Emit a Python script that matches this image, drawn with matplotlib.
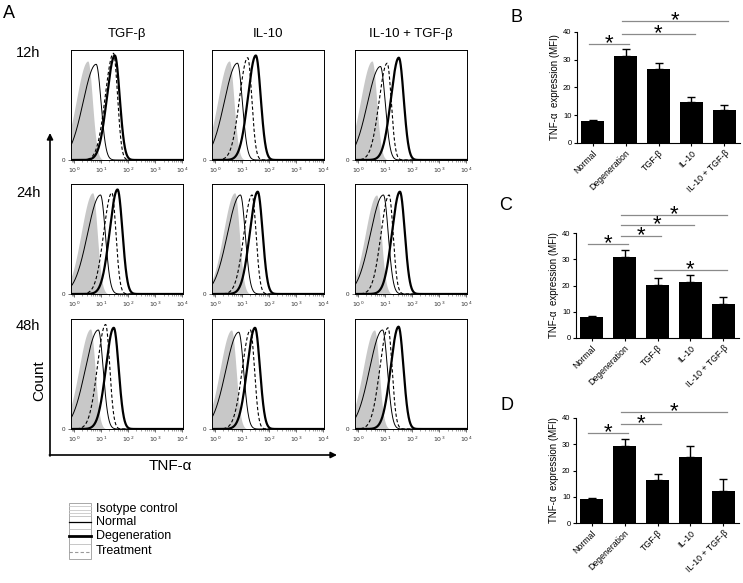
import numpy as np
import matplotlib.pyplot as plt
from matplotlib.patches import Rectangle

plt.rcParams['font.family'] = ['Liberation Sans', 'DejaVu Sans']

W, H = 743, 583

# ---- panel A: flow histograms (peak position as log10 fluorescence, peak height as fraction of max count)
treatments = ['TGF-β', 'IL-10', 'IL-10 + TGF-β']
timepoints = ['12h', '24h', '48h']

iso_peak = [[0.50, 0.52, 0.51], [0.68, 0.72, 0.68], [0.60, 0.60, 0.60]]
normal_peak = [[0.81, 0.82, 0.82], [0.97, 0.93, 0.93], [0.89, 0.87, 0.90]]
degen_peak = [[1.50, 1.50, 1.50], [1.60, 1.57, 1.54], [1.46, 1.47, 1.49]]
treat_peak = [[1.45, 1.20, 1.07], [1.39, 1.36, 1.14], [1.16, 1.30, 1.10]]

iso_height = [[0.90, 0.90, 0.90], [0.92, 0.92, 0.90], [0.91, 0.90, 0.90]]
normal_height = [[0.87, 0.88, 0.85], [0.90, 0.90, 0.90], [0.90, 0.88, 0.90]]
degen_height = [[0.95, 0.95, 0.93], [0.95, 0.93, 0.93], [0.92, 0.92, 0.93]]
treat_height = [[0.97, 0.93, 0.88], [0.92, 0.90, 0.90], [0.95, 0.90, 0.92]]

# ---- panels B-D: bar charts
groups = ['Normal', 'Degeneration', 'TGF-β', 'IL-10', 'IL-10 + TGF-β']
mfi_12h = [8.0, 31.5, 26.5, 14.8, 12.0]
sem_12h = [0.2, 2.5, 2.3, 1.7, 1.6]
mfi_24h = [8.0, 30.8, 20.3, 21.3, 13.0]
sem_24h = [0.2, 2.8, 2.7, 2.7, 2.8]
mfi_48h = [9.2, 29.3, 16.2, 25.3, 12.3]
sem_48h = [0.5, 2.8, 2.3, 4.2, 4.4]
# significance brackets: (group a, group b, height)
sig_12h = [(0, 1, 35.6), (1, 3, 39.2), (1, 4, 43.9)]
sig_24h = [(0, 1, 35.8), (1, 2, 38.9), (1, 3, 43.0), (1, 4, 46.9), (2, 4, 25.9)]
sig_48h = [(0, 1, 34.3), (1, 2, 37.7), (1, 4, 42.3)]


def peak_curve(lx, mu, h, sl, sr):
    s = np.where(lx < mu, sl, sr)
    return h * np.exp(-0.5 * ((lx - mu) / s) ** 2)


fig = plt.figure(figsize=(W / 100, H / 100), dpi=100)

ov = fig.add_axes([0, 0, 1, 1])
ov.set_xlim(0, W)
ov.set_ylim(H, 0)
ov.axis('off')

col_left = [71, 212, 355]
row_top = [50, 184, 319]
pw, ph = 112, 110

lx = np.linspace(-0.12, 4.02, 800)
xs = 10 ** lx

for r in range(3):
    for c in range(3):
        ax = fig.add_axes([col_left[c] / W, 1 - (row_top[r] + ph) / H, pw / W, ph / H])
        ax.fill_between(xs, peak_curve(lx, iso_peak[r][c], iso_height[r][c], 0.42, 0.17),
                        color='#c8c8c8', lw=0)
        ax.plot(xs, peak_curve(lx, normal_peak[r][c], normal_height[r][c], 0.48, 0.18),
                color='black', lw=0.7)
        ax.plot(xs, peak_curve(lx, treat_peak[r][c], treat_height[r][c], 0.30, 0.15),
                color='black', lw=0.8, ls=(0, (3, 2)))
        ax.plot(xs, peak_curve(lx, degen_peak[r][c], degen_height[r][c], 0.29, 0.18),
                color='black', lw=1.6)
        ax.set_xscale('log')
        ax.set_xlim(10 ** -0.12, 10 ** 4.02)
        ax.set_ylim(0, 1.0)
        ax.set_yticks([0])
        ax.set_yticklabels(['0'])
        ax.set_xticks([1, 10, 100, 1000, 10000])
        ax.set_xticklabels(['$10^0$', '$10^1$', '$10^2$', '$10^3$', '$10^4$'])
        ax.tick_params(axis='both', which='major', labelsize=4.5, length=2.5, width=0.5,
                       pad=1.5, colors='#333333')
        ax.tick_params(axis='x', which='minor', length=1.5, width=0.4, colors='#555555')
        for s in ax.spines.values():
            s.set_linewidth(0.7)

for c in range(3):
    ov.text(col_left[c] + pw / 2, 34, treatments[c], ha='center', va='center', fontsize=9.5)
for r, yy in enumerate([53, 193, 326]):
    ov.text(28, yy, timepoints[r], ha='center', va='center', fontsize=10.5)

ov.text(9, 13, 'A', ha='center', va='center', fontsize=13)
ov.text(516, 17, 'B', ha='center', va='center', fontsize=13)
ov.text(506, 205, 'C', ha='center', va='center', fontsize=13)
ov.text(507, 405, 'D', ha='center', va='center', fontsize=13)

# big axes arrows
ov.annotate('', xy=(50, 133), xytext=(50, 456),
            arrowprops=dict(arrowstyle='-|>', lw=1.2, color='black', mutation_scale=9,
                            shrinkA=0, shrinkB=0))
ov.annotate('', xy=(337, 455), xytext=(49.4, 455),
            arrowprops=dict(arrowstyle='-|>', lw=1.2, color='black', mutation_scale=9,
                            shrinkA=0, shrinkB=0))
ov.text(39, 381, 'Count', rotation=90, ha='center', va='center', fontsize=11)
ov.text(170, 466, 'TNF-α', ha='center', va='center', fontsize=11)

# legend
ov.add_patch(Rectangle((69, 503), 22, 56, fill=False, ec='#9a9a9a', lw=0.6))
for yy in [516, 529, 544]:
    ov.plot([69, 91], [yy, yy], color='#b0b0b0', lw=0.5)
for yy in [506, 509.5, 513]:
    ov.plot([69, 91], [yy, yy], color='#c8c8c8', lw=0.6)
ov.plot([69, 91], [522, 522], color='black', lw=0.9)
ov.plot([69, 91], [536, 536], color='black', lw=2.0)
ov.plot([69, 91], [552, 552], color='#999999', lw=0.8, ls=(0, (3, 2)))
for yy, lab in zip([509, 522, 536, 551], ['Isotype control', 'Normal', 'Degeneration', 'Treatment']):
    ov.text(96, yy, lab, ha='left', va='center', fontsize=9)


def bar_panel(left, top40, right, bottom0, vals, errs, sigs):
    ax = fig.add_axes([left / W, 1 - bottom0 / H, (right - left) / W, (bottom0 - top40) / H])
    x = np.arange(len(groups))
    ax.bar(x, vals, width=0.68, color='black')
    ax.errorbar(x, vals, yerr=[np.zeros(len(errs)), errs], fmt='none', ecolor='black',
                elinewidth=1.0, capsize=3.2, capthick=1.0)
    ax.set_xlim(-0.47, 4.47)
    ax.set_ylim(0, 40)
    ax.set_yticks([0, 10, 20, 30, 40])
    ax.set_xticks(x)
    ax.set_xticklabels(groups, rotation=45, ha='right', rotation_mode='anchor', fontsize=6.3)
    ax.tick_params(axis='y', labelsize=5.5)
    ax.tick_params(length=2.5, width=0.8, pad=1.5)
    ax.spines['top'].set_visible(False)
    ax.spines['right'].set_visible(False)
    ax.spines['left'].set_linewidth(0.8)
    ax.spines['bottom'].set_linewidth(0.8)
    ax.set_ylabel('TNF-α  expression (MFI)', fontsize=7, labelpad=2)
    for a, b, y in sigs:
        ax.plot([a - 0.12, b + 0.12], [y, y], color='#8a8a8a', lw=0.9, clip_on=False)
        ax.annotate('*', xy=((a + b) / 2, y), xytext=(0, -3.6), textcoords='offset points',
                    ha='center', va='baseline', fontsize=16, annotation_clip=False)
    return ax


bar_panel(577, 32, 740, 143, mfi_12h, sem_12h, sig_12h)
bar_panel(576, 233, 739, 338, mfi_24h, sem_24h, sig_24h)
bar_panel(576, 418, 739, 523, mfi_48h, sem_48h, sig_48h)

fig.savefig('out.png', dpi=100)
